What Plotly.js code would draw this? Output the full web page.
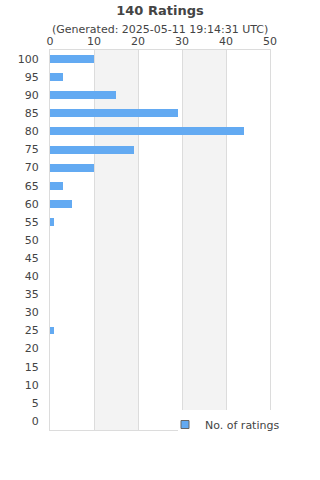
<!DOCTYPE html>
<html><head><meta charset="utf-8">
<script src="https://cdn.plot.ly/plotly-3.0.1.min.js"></script>
<style>html,body{margin:0;padding:0;background:#fff}#chart{width:320px;height:480px}</style>
</head><body><div id="chart"></div>
<script>
const ratings = [0,5,10,15,20,25,30,35,40,45,50,55,60,65,70,75,80,85,90,95,100];
const counts  = [0,0,0,0,0,1,0,0,0,0,0,1,5,3,10,19,44,29,15,3,10];
const xTicks = [0,10,20,30,40,50];
const titleText = "140 Ratings";
const subtitleText = "(Generated: 2025-05-11 19:14:31 UTC)";
const seriesName = "No. of ratings";
const barColor = '#63aaf2';

const shapes = [];
for (let i = 1; i + 1 < xTicks.length; i += 2) {
  shapes.push({type:'rect', xref:'x', yref:'paper', x0:xTicks[i], x1:xTicks[i+1], y0:0, y1:1,
    fillcolor:'#f3f3f3', line:{width:0}, layer:'below'});
}
// white box behind the legend, covering the plot corner
shapes.push({type:'rect', xref:'paper', yref:'paper', x0:(178-50)/220, x1:(305-50)/220,
  y0:(430-437)/380, y1:(430-410)/380, fillcolor:'#fff', line:{width:0}, layer:'above'});

const font = {family:'DejaVu Sans, sans-serif', size:11, color:'#444'};
Plotly.newPlot('chart', [{
  type:'bar', orientation:'h', x:counts, y:ratings, name:seriesName,
  width:2.2,
  marker:{color:barColor, line:{width:0}},
  showlegend:false, hoverinfo:'none'
},{
  type:'scatter', mode:'markers', x:[null], y:[null], name:seriesName,
  marker:{symbol:'square', size:8, color:barColor, line:{color:'#666', width:1}},
  showlegend:true, hoverinfo:'none'
}], {
  width:320, height:480,
  margin:{l:50, r:50, t:50, b:50},
  paper_bgcolor:'#fff', plot_bgcolor:'#fff',
  font:font,
  title:{text:'<b>'+titleText+'</b>', x:0.5, xanchor:'center', y:1-10/480, yanchor:'middle', yref:'container',
    font:{family:'DejaVu Sans, sans-serif', size:13, color:'#444'}},
  annotations:[{text:subtitleText, xref:'paper', yref:'paper', x:0.5, y:(430-29.5)/380, xanchor:'center', yanchor:'middle',
    showarrow:false, font:{family:'DejaVu Sans, sans-serif', size:11, color:'#444'}}],
  xaxis:{side:'top', range:[xTicks[0], xTicks[xTicks.length-1]], tickvals:xTicks, ticktext:xTicks.map(String),
    showgrid:true, gridcolor:'#dcdcdc', gridwidth:1, zeroline:false,
    showline:true, linecolor:'#dcdcdc', mirror:true, ticks:'', ticklabelstandoff:0,
    tickfont:font, fixedrange:true},
  yaxis:{range:[-2.5, 102.5], tickvals:ratings, ticktext:ratings.map(String), showgrid:false, zeroline:false,
    showline:true, linecolor:'#dcdcdc', mirror:true, ticks:'', ticklabelstandoff:8,
    tickfont:font, fixedrange:true},
  shapes:shapes,
  showlegend:true,
  legend:{orientation:'h', x:(165-50)/220, xanchor:'left', y:(430-410)/380, yanchor:'top',
    bgcolor:'rgba(0,0,0,0)', borderwidth:0, font:font, itemwidth:30},
  bargap:0
}, {staticPlot:true, displayModeBar:false});
</script></body></html>
